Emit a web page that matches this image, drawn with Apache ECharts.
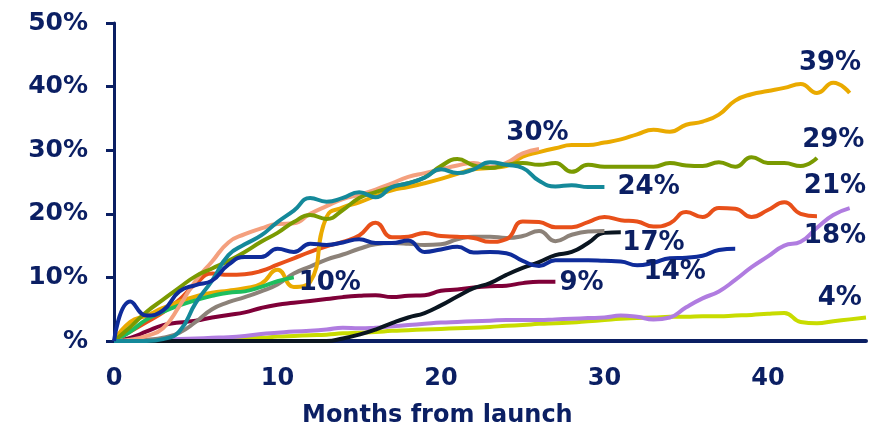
<!DOCTYPE html>
<html>
<head>
<meta charset="utf-8">
<script src="https://cdn.jsdelivr.net/npm/echarts@6/dist/echarts.min.js"></script>
<style>html,body{margin:0;padding:0;background:#fff}#c{width:877px;height:432px}</style>
</head>
<body>
<div id="c"></div>
<script>
// Monthly values (%), index = months from launch
const gold = [0,3,4,5.2,6.2,7,7.6,7.9,8.3,9,11.2,8.5,9.3,19.5,21,21.8,22.8,23.7,24.2,24.8,25.5,26.3,27,27.2,27.5,29,29.7,30.3,30.8,30.8,31.2,31.7,32.5,33.2,32.9,34,34.5,35.6,37.8,38.8,39.3,39.8,40.4,39,40.6,39];
const olive = [0,2.2,4.6,6.5,8.4,10.2,11.4,12.6,14,15.6,17,18.7,19.8,19.2,20.6,22.5,23.4,24.2,24.8,25.7,27.5,28.6,27.6,27.2,27.7,28,27.7,28,26.6,27.7,27.4,27.4,27.4,27.4,28,27.6,27.5,28.1,27.4,28.9,28,28,27.5,28.8];
const teal = [0,0,0,0.3,1.5,6,9.5,13.5,15.2,16.6,18.7,20.5,22.5,21.9,22.5,23.4,22.6,24.2,24.8,25.7,27,26.4,27,28.1,27.7,27.2,25.2,24.3,24.5,24.2,24.2];
const salmon = [0,0.2,0.8,2,5.5,9.5,12.5,15.5,16.8,17.7,18.4,18.5,20,21.2,22.3,23,23.8,24.8,25.8,26.4,27,27.6,28,27.4,28,29.5,30.2];
const orangeRed = [0,1.5,3,4.5,6.5,9,10.6,10.4,10.5,11,12,13,14,14.9,15.6,16.6,18.6,16.3,16.4,17,16.5,16.4,16.2,15.6,16,18.8,18.7,17.9,17.9,18.7,19.5,19,18.8,18,18.5,20.3,19.5,20.9,20.8,19.5,20.6,21.8,20,19.6];
const navy = [0,6.2,4,4.8,7.8,8.8,9.5,12,13.2,13.2,14.5,14,15.3,15.1,15.5,16,15.4,15.4,15.8,14,14.4,14.8,13.9,14,13.8,12.6,11.8,12.7,12.7,12.7,12.6,12.5,11.9,12.3,13,13.1,13.4,14.3,14.5];
const gray = [0,0,0.2,0.5,1.3,3,5,6.1,6.9,7.8,8.9,10.6,11.7,12.8,13.6,14.5,15.2,15.4,15.3,15.1,15.2,16,16.4,16.4,16.2,16.5,17.3,15.7,16.7,17.2,17.3];
const black = [0,0,0,0,0,0,0,0,0,0,0,0,0,0,0.4,1,1.8,2.8,3.7,4.4,5.6,7,8.3,9.1,10.4,11.5,12.4,13.5,14,15.4,17,17.1];
const maroon = [0,0.5,1.5,2.5,2.9,3.2,3.7,4.1,4.5,5.2,5.7,6,6.3,6.6,6.9,7.1,7.2,6.9,7.1,7.2,7.9,8.1,8.4,8.6,8.7,9.1,9.3,9.3];
const green = [0,1.5,3.4,4.6,5.6,6.4,7.1,7.6,7.8,8.5,9.4,10];
const lavender = [0,0,0.1,0.2,0.3,0.4,0.5,0.6,0.8,1.1,1.3,1.5,1.6,1.8,2.1,2,2.1,2.3,2.5,2.7,2.9,3,3.1,3.2,3.3,3.3,3.3,3.4,3.5,3.6,3.7,4,3.8,3.4,3.7,5.3,6.7,7.8,9.6,11.6,13.3,15,15.6,17.8,19.8,20.9];
const yellowGreen = [0,0,0,0.1,0.1,0.2,0.3,0.4,0.5,0.5,0.7,0.8,0.9,1,1.2,1.3,1.4,1.6,1.7,1.8,1.9,2,2.1,2.2,2.4,2.5,2.7,2.8,2.9,3.1,3.3,3.5,3.6,3.7,3.8,3.8,3.9,3.9,4,4.1,4.3,4.4,3,2.8,3.1,3.4,3.7];

// End-value annotations (data coordinates of text centres)
const annoText = ['39%','29%','21%','18%','4%','24%','17%','14%','9%','10%','30%'];
const annoX = [43.8,44,44.1,44.1,44.4,32.7,33,34.3,28.6,13.2,25.9];
const annoY = [43.7,31.6,24.4,16.5,6.8,24.2,15.3,10.8,9.1,9.1,32.7];

const xTicks = [0,10,20,30,40];
const yTicks = [0,10,20,30,40,50];

const NAVY = '#0b1f63';
const FONT = 'DejaVu Sans';

const lines = [
  {d: yellowGreen, c: '#c8dc00'},
  {d: lavender, c: '#b07ce0'},
  {d: maroon, c: '#7f0038'},
  {d: black, c: '#0a1520'},
  {d: gray, c: '#8c8279'},
  {d: orangeRed, c: '#e8501a'},
  {d: gold, c: '#eaaa00'},
  {d: green, c: '#1dbe5e'},
  {d: salmon, c: '#f4a07e'},
  {d: olive, c: '#7a9a01'},
  {d: teal, c: '#14899a'},
  {d: navy, c: '#0f2c9a'}
];

const series = lines.map(l => ({
  type: 'line',
  smooth: 0.5,
  symbol: 'none',
  data: l.d.map((v, i) => [i, v]),
  lineStyle: {color: l.c, width: 4},
  itemStyle: {color: l.c},
  silent: true,
  animation: false
}));

const chart = echarts.init(document.getElementById('c'), null, {renderer: 'canvas'});
chart.setOption({
  animation: false,
  grid: {left: 114, right: 11, top: 23, bottom: 91, containLabel: false},
  xAxis: {
    type: 'value', min: 0, max: 46, interval: 10,
    axisLine: {show: true, lineStyle: {color: NAVY, width: 4}},
    axisTick: {show: false},
    splitLine: {show: false},
    axisLabel: {
      margin: 26, color: NAVY, fontFamily: FONT, fontWeight: 'bold', fontSize: 24,
      formatter: v => xTicks.includes(v) ? String(v) : ''
    }
  },
  yAxis: {
    type: 'value', min: 0, max: 50, interval: 10,
    axisLine: {show: true, lineStyle: {color: NAVY, width: 3}},
    axisTick: {show: true, length: 8, lineStyle: {color: NAVY, width: 3}},
    splitLine: {show: false},
    axisLabel: {
      margin: 26, color: NAVY, fontFamily: FONT, fontWeight: 'bold', fontSize: 25,
      formatter: v => yTicks.includes(v) ? (v === 0 ? '%' : v + '%') : ''
    }
  },
  series: series
});

const graphics = [{
  type: 'text', left: 302, top: 404,
  style: {text: 'Months from launch', fill: NAVY, font: 'bold 24px "DejaVu Sans"'}
}];
annoText.forEach((t, i) => {
  const p = chart.convertToPixel({gridIndex: 0}, [annoX[i], annoY[i]]);
  graphics.push({
    type: 'text', x: p[0], y: p[1], z: 100,
    style: {text: t, fill: NAVY, font: 'bold 26px "DejaVu Sans"', textAlign: 'center', textVerticalAlign: 'middle'}
  });
});
chart.setOption({graphic: graphics});
</script>
</body>
</html>
